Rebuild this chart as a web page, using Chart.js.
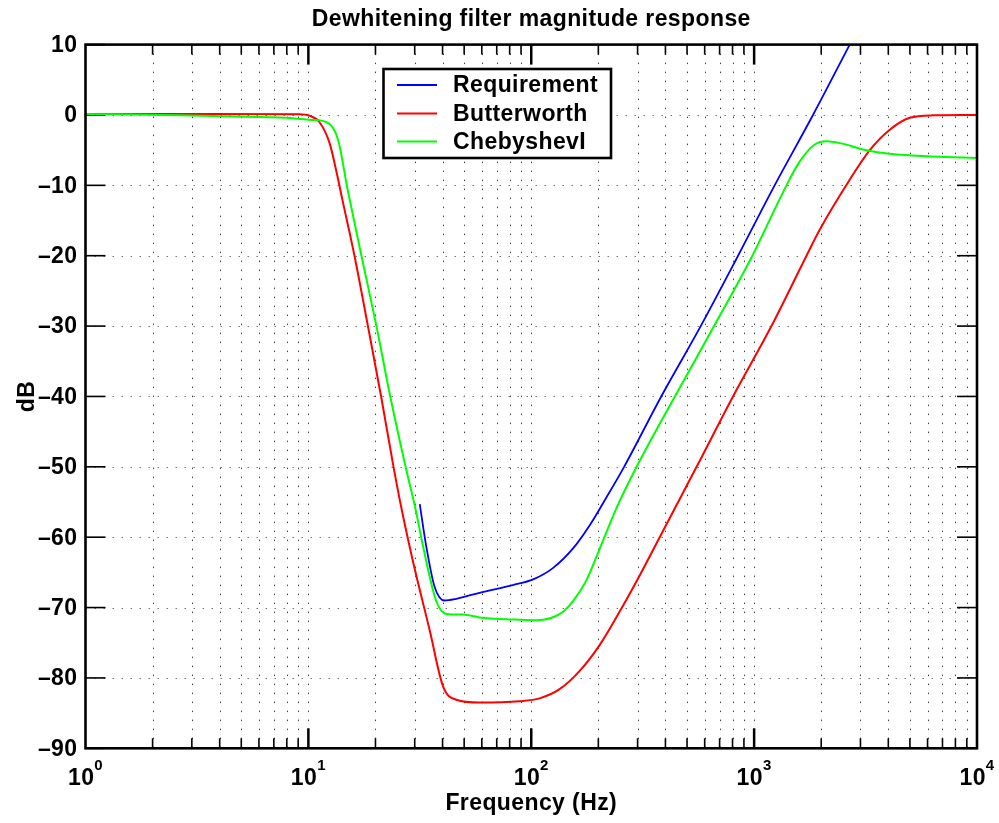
<!DOCTYPE html>
<html>
<head>
<meta charset="utf-8">
<script src="https://cdn.jsdelivr.net/npm/chart.js@4.4.1/dist/chart.umd.min.js"></script>
<style>
  html, body { margin: 0; padding: 0; background: #ffffff; }
  canvas { display: block; }
</style>
</head>
<body>
<canvas id="c" width="999" height="823"></canvas>
<script>
// ---- Data ----
const titleText = 'Dewhitening filter magnitude response';
const xLabel = 'Frequency (Hz)';
const yLabel = 'dB';
const seriesNames = ['Requirement', 'Butterworth', 'ChebyshevI'];
const seriesColors = ['#0000ff', '#ff0000', '#00ff00'];

const reqFreq = [31.6, 33.8, 36.8, 40.8, 46.1, 58.6, 82.7, 102, 125, 154, 183, 216, 261, 383, 576, 847, 1236, 1837, 2685];
const reqDb   = [-55.3, -61.3, -67.0, -69.0, -68.75, -67.9, -66.8, -66.0, -64.4, -61.6, -58.3, -54.5, -50, -40, -30, -20, -10, 0, 10];

const butFreq = [1, 3.25, 9.1, 10.1, 11.2, 12.45, 13.5, 14.2, 16.1, 18.5, 21.2, 24.1, 26.2, 29.4, 35.0, 40.2, 46.1, 58.6, 88.7, 109, 134, 165, 203, 249, 307, 377, 552, 804, 1196, 1718, 1969, 2685, 3303, 4060, 4990, 6350, 10000];
const butDb   = [0.15, 0.15, 0.1, -0.1, -1.0, -4.0, -8.7, -12.0, -20, -30, -40, -50, -56, -63.3, -73.2, -81.2, -83.1, -83.5, -83.3, -82.9, -81.6, -79.0, -75.3, -70.6, -65.4, -60, -50, -40, -30, -20, -16.3, -9.2, -5.0, -2.1, -0.4, -0.05, 0.0];

const chebFreq = [1, 2.64, 5.26, 8.49, 10.4, 12.2, 13.6, 15.0, 17.3, 20.2, 23.3, 27.3, 30.3, 32.7, 37.5, 41.6, 49.4, 58.6, 82.7, 102, 115, 127, 139, 154, 177, 199, 241, 297, 441, 661, 982, 1397, 1603, 1871, 2112, 2423, 3190, 4060, 6350, 10000];
const chebDb   = [0.15, -0.05, -0.25, -0.45, -0.7, -1.1, -3.55, -10.6, -20, -30, -40, -50, -56.1, -61.3, -69.1, -70.9, -71.0, -71.4, -71.7, -71.8, -71.7, -71.3, -70.6, -69.1, -66.1, -62.3, -55.9, -50, -40, -30, -20, -10, -6.6, -4.2, -3.75, -4.0, -5.0, -5.5, -5.9, -6.1];

const xDecades = [1, 10, 100, 1000, 10000];
const xDecadeExp = ['0', '1', '2', '3', '4'];
const yTicks = [10, 0, -10, -20, -30, -40, -50, -60, -70, -80, -90];

// ---- helpers ----
function pts(xs, ys) { return xs.map((x, i) => ({ x: x, y: ys[i] })); }
const FONT = '"Liberation Sans", Arial, Helvetica, sans-serif';
const FSIZE = 23;
const LSPACE = '0.4px';

function minorLogValues() {
  const out = [];
  for (let k = 0; k < 4; k++) {
    for (let m = 2; m <= 9; m++) out.push({ v: m * Math.pow(10, k), major: false });
    if (k < 3) out.push({ v: Math.pow(10, k + 1), major: true });
  }
  return out;
}

const matlabAxes = {
  id: 'matlabAxes',
  beforeDatasetsDraw(chart) {
    const ctx = chart.ctx, a = chart.chartArea;
    const xs = chart.scales.x, ys = chart.scales.y;
    ctx.save();
    ctx.lineWidth = 1;
    ctx.setLineDash([1.5, 7.5]);
    // vertical dotted grid
    ctx.strokeStyle = '#444444';
    minorLogValues().forEach(t => {
      const px = Math.round(xs.getPixelForValue(t.v)) + 0.5;
      ctx.beginPath(); ctx.moveTo(px, a.top); ctx.lineTo(px, a.bottom); ctx.stroke();
    });
    // horizontal dotted grid
    ctx.strokeStyle = '#777777';
    yTicks.forEach(v => {
      if (v === 10 || v === -90) return;
      const py = Math.round(ys.getPixelForValue(v)) + 0.5;
      ctx.beginPath(); ctx.moveTo(a.left, py); ctx.lineTo(a.right, py); ctx.stroke();
    });
    ctx.setLineDash([]);
    ctx.strokeStyle = '#000000';
    // x ticks (inward, top & bottom)
    minorLogValues().forEach(t => {
      const px = xs.getPixelForValue(t.v);
      const len = t.major ? 20 : 10;
      ctx.lineWidth = t.major ? 2.5 : 1.6;
      ctx.beginPath(); ctx.moveTo(px, a.bottom); ctx.lineTo(px, a.bottom - len); ctx.stroke();
      ctx.beginPath(); ctx.moveTo(px, a.top); ctx.lineTo(px, a.top + len); ctx.stroke();
    });
    // y ticks (inward, left & right)
    ctx.lineWidth = 1.6;
    yTicks.forEach(v => {
      const py = ys.getPixelForValue(v);
      ctx.beginPath(); ctx.moveTo(a.left, py); ctx.lineTo(a.left + 20, py); ctx.stroke();
      ctx.beginPath(); ctx.moveTo(a.right, py); ctx.lineTo(a.right - 20, py); ctx.stroke();
    });
    ctx.restore();
  },
  afterDatasetsDraw(chart) {
    const ctx = chart.ctx, a = chart.chartArea;
    ctx.save();
    ctx.strokeStyle = '#000000';
    // frame
    ctx.lineWidth = 2.6;
    ctx.strokeRect(a.left, a.top, a.right - a.left, a.bottom - a.top);

    // legend box
    const lx = 383.5, ly = 69, lw = 227.5, lh = 89;
    ctx.fillStyle = '#ffffff';
    ctx.fillRect(lx, ly, lw, lh);
    ctx.lineWidth = 2.6;
    ctx.strokeRect(lx, ly, lw, lh);
    const rows = [85, 113.5, 141.5];
    ctx.font = 'bold ' + FSIZE + 'px ' + FONT;
    ctx.letterSpacing = LSPACE;
    ctx.textAlign = 'left';
    ctx.textBaseline = 'middle';
    chart.data.datasets.forEach((ds, i) => {
      ctx.strokeStyle = ds.borderColor;
      ctx.lineWidth = 2;
      ctx.beginPath(); ctx.moveTo(397, rows[i]); ctx.lineTo(437, rows[i]); ctx.stroke();
      ctx.fillStyle = '#000000';
      ctx.fillText(ds.label, 453, rows[i] + 1);
    });
    ctx.restore();
  },
  afterDraw(chart) {
    const ctx = chart.ctx, a = chart.chartArea;
    const xs = chart.scales.x, ys = chart.scales.y;
    ctx.save();
    ctx.fillStyle = '#000000';
    ctx.letterSpacing = LSPACE;
    // y tick labels
    ctx.font = 'bold ' + FSIZE + 'px ' + FONT;
    ctx.textAlign = 'right';
    ctx.textBaseline = 'middle';
    yTicks.forEach(v => {
      const py = ys.getPixelForValue(v);
      const s = v < 0 ? '\u2013' + Math.abs(v) : String(v);
      ctx.fillText(s, a.left - 8, py + 1);
    });
    // x tick labels 10^k
    ctx.textAlign = 'left';
    ctx.textBaseline = 'alphabetic';
    xDecades.forEach((v, i) => {
      const px = xs.getPixelForValue(v);
      ctx.font = 'bold ' + FSIZE + 'px ' + FONT;
      const wb = ctx.measureText('10').width;
      ctx.font = 'bold 15px ' + FONT;
      const we = ctx.measureText(xDecadeExp[i]).width;
      const x0 = px - (wb + we) / 2;
      ctx.font = 'bold ' + FSIZE + 'px ' + FONT;
      ctx.fillText('10', x0, 785);
      ctx.font = 'bold 15px ' + FONT;
      ctx.fillText(xDecadeExp[i], x0 + wb, 770);
    });
    // title
    ctx.font = 'bold ' + FSIZE + 'px ' + FONT;
    ctx.textAlign = 'center';
    ctx.fillText(titleText, (a.left + a.right) / 2, 26);
    // x axis label
    ctx.fillText(xLabel, (a.left + a.right) / 2, 810);
    // y axis label
    ctx.translate(34, (a.top + a.bottom) / 2);
    ctx.rotate(-Math.PI / 2);
    ctx.fillText(yLabel, 0, 0);
    ctx.restore();
  }
};

const datasets = [
  { label: seriesNames[0], data: pts(reqFreq, reqDb), borderColor: seriesColors[0], borderWidth: 1.8, order: 3 },
  { label: seriesNames[1], data: pts(butFreq, butDb), borderColor: seriesColors[1], borderWidth: 2, order: 2 },
  { label: seriesNames[2], data: pts(chebFreq, chebDb), borderColor: seriesColors[2], borderWidth: 2, order: 1 }
].map(d => Object.assign(d, {
  showLine: true, pointRadius: 0, fill: false,
  cubicInterpolationMode: 'monotone', backgroundColor: d.borderColor
}));

new Chart(document.getElementById('c'), {
  type: 'scatter',
  data: { datasets: datasets },
  options: {
    responsive: false,
    animation: false,
    devicePixelRatio: 1,
    layout: { padding: { left: 85.5, top: 44.6, right: 22, bottom: 74.7 } },
    plugins: { legend: { display: false }, title: { display: false }, tooltip: { enabled: false } },
    scales: {
      x: { type: 'logarithmic', min: 1, max: 10000, display: false },
      y: { type: 'linear', min: -90, max: 10, display: false }
    }
  },
  plugins: [matlabAxes]
});
</script>
</body>
</html>
